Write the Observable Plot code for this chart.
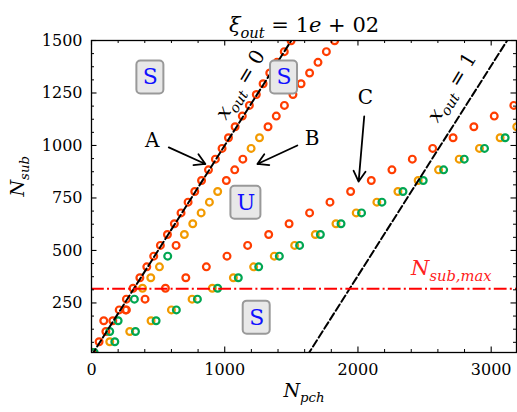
<!DOCTYPE html>
<html><head><meta charset="utf-8">
<script src="https://cdn.jsdelivr.net/npm/d3@7"></script>
<script src="https://cdn.jsdelivr.net/npm/@observablehq/plot@0.6"></script>
<style>body{margin:0;background:#fff} svg{display:block}</style>
</head><body><div id="chart"></div>
<script>
// ---- data ----
const diagPch = [10,57,108,160,208,262,312,363,415,467,517,570,622,672,725,775,826,878,930,980,1028,1078,1132,1185,1237,1288,1338,1392,1447,1498];
const diagSub = [14,65,114,165,217,268,320,370,422,473,524,576,627,679,730,781,833,884,935,986,1037,1089,1140,1191,1243,1294,1345,1396,1447,1499];

const midPch = [137,200,262,322,383,445,510,572,635,697,760,823,885,947,1012,1075,1136,1198,1261,1325,1387,1448,1512,1573,1637,1700,1763,1825];
const midSub = [114,165,217,268,320,370,422,473,524,576,627,679,730,781,833,884,935,986,1037,1089,1140,1191,1243,1294,1345,1396,1447,1499];
const midSeries = ["green","green","red","green","orange","orange","orange","green","red","orange","orange","orange","orange","orange","red","red","red","orange","orange","red","red","red","red","red","red","red","red","red"];

const lowRedPch = [92,255,402,555,708,862,1017,1172,1330,1483,1637,1790,1945,2100,2255,2408,2561,2714,2870,3023,3170];
const lowRedSub = [165,217,268,320,370,422,473,524,576,627,679,730,781,833,884,935,986,1037,1089,1140,1191];

const lowOrangePch = [137,287,447,600,755,907,1065,1217,1372,1525,1680,1835,1987,2142,2300,2452,2605,2760,2912,3067,3192];
const lowOrangeSub = [65,114,165,217,268,320,370,422,473,524,576,627,679,730,781,833,884,935,986,1037,1089];

const lowGreenPch = [20,175,330,485,637,795,947,1102,1255,1410,1562,1718,1873,2027,2180,2338,2490,2643,2798,2950,3105];
const lowGreenSub = [14,65,114,165,217,268,320,370,422,473,524,576,627,679,730,781,833,884,935,986,1037];

const xout0Pch = [0, 1500], xout0Sub = [0, 1500];
const xout1Pch = [1620, 3120], xout1Sub = [0, 1500];
const nSubMax = 318;

const xMajor = [0, 1000, 2000, 3000];
const xMinor = [200,400,600,800,1200,1400,1600,1800,2200,2400,2600,2800];
const yMajor = [250, 500, 750, 1000, 1250, 1500];
const yMinor = [62.5,125,187.5,312.5,375,437.5,562.5,625,687.5,812.5,875,937.5,1062.5,1125,1187.5,1312.5,1375,1437.5];

const regionLabels = ["S", "S", "U", "S"];
const regionPch = [442, 1445, 1159, 1240];
const regionSub = [1324, 1324, 727, 180];

const letterLabels = ["A", "B", "C"];
const letterPch = [455, 1655, 2055];
const letterSub = [1023, 1031, 1230];
const arrowFromPch = [580, 1545, 2047], arrowFromSub = [991, 1000, 1138];
const arrowToPch = [855, 1245, 2005], arrowToSub = [912, 912, 828];

const lineLabels = ["$x_{out} = 0", "$x_{out} = 1"];
const lineLabelPch = [1117, 2705], lineLabelSub = [1290, 1277];

const colors = {red: "#ff3d00", orange: "#f29a00", green: "#00a651"};

// ---- build tables ----
const pts = [];
diagPch.forEach((x, i) => pts.push({x, y: diagSub[i], s: "red"}));
midPch.forEach((x, i) => pts.push({x, y: midSub[i], s: midSeries[i]}));
lowRedPch.forEach((x, i) => pts.push({x, y: lowRedSub[i], s: "red"}));
lowOrangePch.forEach((x, i) => pts.push({x, y: lowOrangeSub[i], s: "orange"}));
lowGreenPch.forEach((x, i) => pts.push({x, y: lowGreenSub[i], s: "green"}));

const line0 = xout0Pch.map((x, i) => ({x, y: xout0Sub[i]}));
const line1 = xout1Pch.map((x, i) => ({x, y: xout1Sub[i]}));
const regions = regionLabels.map((t, i) => ({t, x: regionPch[i], y: regionSub[i]}));
const letters = letterLabels.map((t, i) => ({t, x: letterPch[i], y: letterSub[i]}));
const arrows = arrowFromPch.map((x, i) => ({x1: x, y1: arrowFromSub[i], x2: arrowToPch[i], y2: arrowToSub[i]}));
const lLabels = lineLabels.map((t, i) => ({t, x: lineLabelPch[i], y: lineLabelSub[i]}));

const W = 517, H = 412, mL = 91, mR = 1, mT = 40, mB = 60;
const iw = W - mL - mR, ih = H - mT - mB;
const maj = 5.5, mnr = 3;

const dotMarks = ["red", "orange", "green"].map(s =>
  Plot.dot(pts.filter(d => d.s === s), {x: "x", y: "y", r: 3.4, stroke: colors[s], strokeWidth: 2.2, fill: "none", clip: true}));

const chart = Plot.plot({
  width: W, height: H,
  marginLeft: mL, marginRight: mR, marginTop: mT, marginBottom: mB,
  x: {domain: [0, 3190]},
  y: {domain: [14, 1500]},
  style: {fontFamily: "DejaVu Serif", fontSize: "16px", background: "white", color: "black"},
  marks: [
    ...dotMarks,
    Plot.line(line0, {x: "x", y: "y", stroke: "black", strokeWidth: 2, strokeDasharray: "7.4,3.2", clip: true}),
    Plot.line(line1, {x: "x", y: "y", stroke: "black", strokeWidth: 2, strokeDasharray: "7.4,3.2", clip: true}),
    Plot.ruleY([nSubMax], {stroke: "#ff0000", strokeWidth: 2, strokeDasharray: "12.8,3.2,2,3.2"}),
    Plot.text(["$N_{sub,max}"], {x: 2700, y: 413, fill: "#ff2020", fontSize: 21}),
    Plot.rect(regions.filter(d => d.t === "S"), {x1: "x", x2: "x", y1: "y", y2: "y", insetLeft: -13.5, insetRight: -13.5, insetTop: -16.5, insetBottom: -16.5, rx: 4, fill: "#e8e8e8", stroke: "#999", strokeWidth: 2}),
    Plot.rect(regions.filter(d => d.t === "U"), {x1: "x", x2: "x", y1: "y", y2: "y", insetLeft: -15, insetRight: -15, insetTop: -16.5, insetBottom: -16.5, rx: 4, fill: "#e8e8e8", stroke: "#999", strokeWidth: 2}),
    Plot.text(regions, {x: "x", y: "y", text: "t", fill: "#1010ff", fontSize: 22}),
    Plot.text(lLabels, {x: "x", y: "y", text: "t", rotate: -59, fontSize: 20}),
    Plot.arrow(arrows, {x1: "x1", y1: "y1", x2: "x2", y2: "y2", stroke: "black", strokeWidth: 1.8, headLength: 10}),
    Plot.text(letters, {x: "x", y: "y", text: "t", fontSize: 20}),
    Plot.frame({stroke: "black", strokeWidth: 1.3}),
    Plot.ruleX(xMajor, {insetTop: ih - maj, stroke: "black", strokeWidth: 1.1}),
    Plot.ruleX(xMajor, {insetBottom: ih - maj, stroke: "black", strokeWidth: 1.1}),
    Plot.ruleX(xMinor, {insetTop: ih - mnr, stroke: "black", strokeWidth: 1}),
    Plot.ruleX(xMinor, {insetBottom: ih - mnr, stroke: "black", strokeWidth: 1}),
    Plot.ruleY(yMajor, {insetRight: iw - maj, stroke: "black", strokeWidth: 1.1}),
    Plot.ruleY(yMajor, {insetLeft: iw - maj, stroke: "black", strokeWidth: 1.1}),
    Plot.ruleY(yMinor, {insetRight: iw - mnr, stroke: "black", strokeWidth: 1}),
    Plot.ruleY(yMinor, {insetLeft: iw - mnr, stroke: "black", strokeWidth: 1}),
    Plot.axisX(xMajor, {anchor: "bottom", tickSize: 0, tickPadding: 11, fontSize: 16, label: null, tickFormat: d => String(d)}),
    Plot.axisY(yMajor, {anchor: "left", tickSize: 0, tickPadding: 9, fontSize: 16, label: null, tickFormat: d => String(d)}),
    Plot.text(["$N_{pch}"], {frameAnchor: "bottom", dy: 44, fontSize: 19}),
    Plot.text(["$N_{sub}"], {frameAnchor: "left", dx: -74, rotate: -90, fontSize: 19}),
    Plot.text(["$ξ_{out} = 1e + 02"], {frameAnchor: "top", dy: -23, fontSize: 21})
  ]
});
document.getElementById("chart").append(chart);

// ---- math-style text: italic letters, subscripts ----
function mathify(root) {
  const ns = "http://www.w3.org/2000/svg";
  d3.select(root).selectAll("text").each(function() {
    const t = this.textContent;
    if (!t.startsWith("$")) return;
    const s = t.slice(1);
    const fs = parseFloat(getComputedStyle(this).fontSize);
    this.textContent = "";
    let shift = 0;
    const re = /_\{([^}]*)\}|[A-Za-zξ]+|[^A-Za-zξ_]+/g;
    let m;
    while ((m = re.exec(s))) {
      const ts = document.createElementNS(ns, "tspan");
      if (m[1] !== undefined) {
        ts.textContent = m[1];
        ts.setAttribute("font-size", fs * 0.7);
        ts.setAttribute("font-style", "italic");
        const d = fs * 0.28 - shift; shift = fs * 0.28;
        ts.setAttribute("dy", d);
      } else {
        ts.textContent = m[0];
        if (/[A-Za-zξ]/.test(m[0][0])) ts.setAttribute("font-style", "italic");
        if (shift) { ts.setAttribute("dy", -shift); shift = 0; }
      }
      this.appendChild(ts);
    }
  });
}
mathify(chart);
</script></body></html>
